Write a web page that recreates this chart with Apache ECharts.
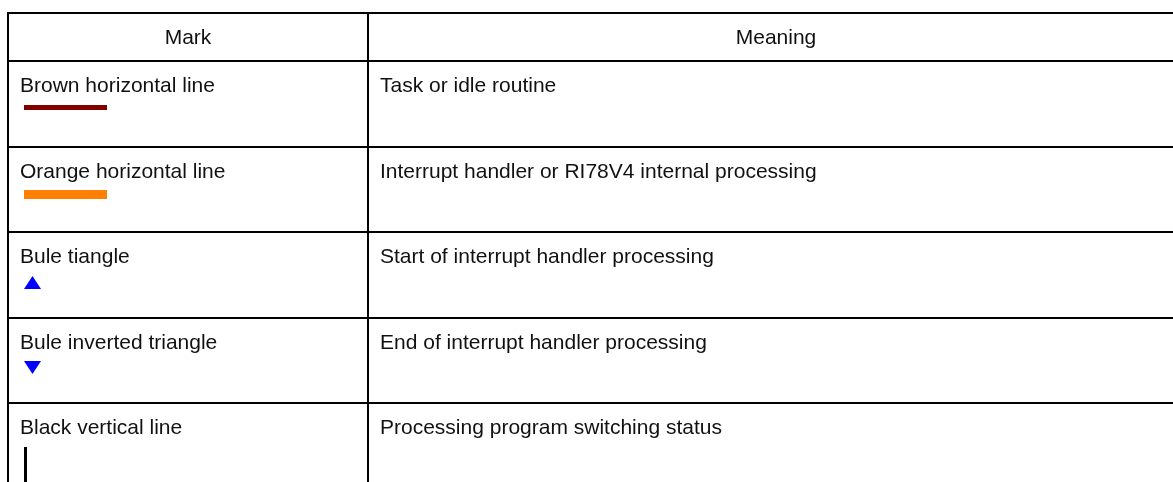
<!DOCTYPE html>
<html>
<head>
<meta charset="utf-8">
<script src="https://cdn.jsdelivr.net/npm/echarts@6/dist/echarts.min.js"></script>
<style>
html, body { margin: 0; padding: 0; background: #ffffff; }
#chart { width: 1173px; height: 482px; }
</style>
</head>
<body>
<div id="chart"></div>
<script>
// ---- table content ----
const headers = ['Mark', 'Meaning'];
const markNames = [
  'Brown horizontal line',
  'Orange horizontal line',
  'Bule tiangle',
  'Bule inverted triangle',
  'Black vertical line'
];
const meanings = [
  'Task or idle routine',
  'Interrupt handler or RI78V4 internal processing',
  'Start of interrupt handler processing',
  'End of interrupt handler processing',
  'Processing program switching status'
];
const markKinds = ['hline', 'hlineThick', 'triUp', 'triDown', 'vline'];
const markColors = ['#800000', '#ff8000', '#0000ff', '#0000ff', '#000000'];

// ---- layout (pixel space of the hidden axes) ----
const W = 1173, H = 482;
const L = {
  left: 7, split: 367, right: 1183, top: 12,
  headerH: 48, rowH: 85.5, border: 2,
  font: '21px "Liberation Sans", Arial, sans-serif', textColor: '#111111'
};

function rowTop(r) { // r: 0 = first body row
  return Math.round(L.top + L.headerH + r * L.rowH);
}

function renderItem(params, api) {
  const idx = api.value(0);
  const P = (x, y) => api.coord([x, y]);
  const children = [];
  const rect = (x, y, w, h, fill) => {
    const a = P(x, y), b = P(x + w, y + h);
    children.push({ type: 'rect', shape: { x: a[0], y: a[1], width: b[0] - a[0], height: b[1] - a[1] }, style: { fill: fill } });
  };
  const text = (s, x, y, align) => {
    const p = P(x, y);
    children.push({ type: 'text', style: { text: s, x: p[0], y: p[1], font: L.font, fill: L.textColor, align: align, verticalAlign: 'middle' } });
  };
  if (idx === 0) {
    // header row + vertical borders
    rect(L.left, L.top, L.right - L.left + L.border, L.border, '#000');
    rect(L.left, L.top, L.border, H + 10 - L.top, '#000');
    rect(L.split, L.top, L.border, H + 10 - L.top, '#000');
    rect(L.right, L.top, L.border, H + 10 - L.top, '#000');
    const cy = L.top + L.border + (L.headerH - L.border) / 2 + 1.5;
    text(headers[0], (L.left + L.border + L.split) / 2, cy, 'center');
    text(headers[1], (L.split + L.border + L.right) / 2, cy, 'center');
  } else {
    const r = idx - 1;
    const y0 = rowTop(r);
    rect(L.left, y0, L.right - L.left + L.border, L.border, '#000');
    text(markNames[r], 20, y0 + 26, 'left');
    text(meanings[r], 380, y0 + 26, 'left');
    const kind = markKinds[r], col = markColors[r];
    const mx = 24;
    if (kind === 'hline') {
      rect(mx, y0 + 45, 83, 5, col);
    } else if (kind === 'hlineThick') {
      rect(mx, y0 + 44, 83, 9, col);
    } else if (kind === 'triUp' || kind === 'triDown') {
      const t = y0 + (kind === 'triUp' ? 45 : 44), b = t + 13, w = 17;
      const pts = kind === 'triUp'
        ? [P(mx + w / 2, t), P(mx + w, b), P(mx, b)]
        : [P(mx, t), P(mx + w, t), P(mx + w / 2, b)];
      children.push({ type: 'polygon', shape: { points: pts }, style: { fill: col } });
    } else if (kind === 'vline') {
      rect(mx, y0 + 45, 3, 60, col);
    }
  }
  return { type: 'group', children: children };
}

const rowsData = [0].concat(markNames.map((_, i) => i + 1)).map(v => [v]);

const chart = echarts.init(document.getElementById('chart'), null, { renderer: 'canvas' });
chart.setOption({
  animation: false,
  backgroundColor: '#ffffff',
  grid: { left: 0, right: 0, top: 0, bottom: 0 },
  xAxis: { type: 'value', min: 0, max: W, show: false },
  yAxis: { type: 'value', min: 0, max: H, inverse: true, show: false },
  series: [{
    type: 'custom',
    silent: true,
    clip: false,
    renderItem: renderItem,
    encode: { x: -1, y: -1 },
    data: rowsData
  }]
});
</script>
</body>
</html>
